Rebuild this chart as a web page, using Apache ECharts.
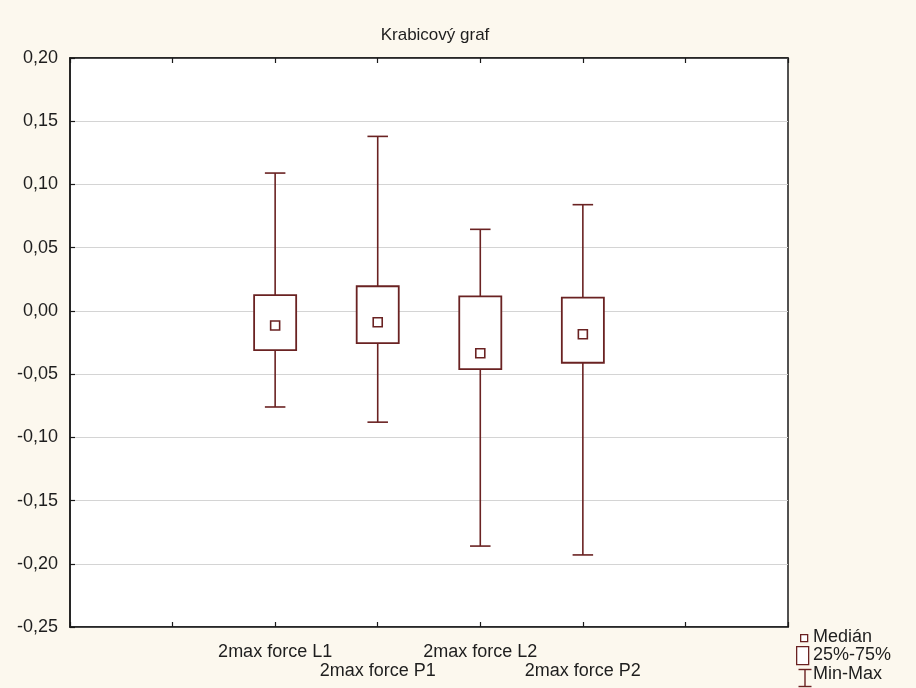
<!DOCTYPE html>
<html>
<head>
<meta charset="utf-8">
<script src="https://cdn.jsdelivr.net/npm/echarts@6/dist/echarts.min.js"></script>
<style>
  html, body { margin: 0; padding: 0; background: #fcf8ee; }
  #chart { width: 916px; height: 688px; }
</style>
</head>
<body>
<div id="chart"></div>
<script>
// Box plot: median, 25%-75% box and min-max whiskers per variable
const categories = ['2max force L1', '2max force P1', '2max force L2', '2max force P2'];
const positions = [2, 3, 4, 5];
const minValues = [-0.076, -0.088, -0.186, -0.193];
const q1Values = [-0.031, -0.0255, -0.046, -0.041];
const medianValues = [-0.0115, -0.009, -0.0335, -0.0185];
const q3Values = [0.0125, 0.0195, 0.0115, 0.0105];
const maxValues = [0.109, 0.138, 0.0645, 0.084];
const yMin = -0.25, yMax = 0.20, yStep = 0.05;
const legendLabels = ['Medián', '25%-75%', 'Min-Max'];

const markColor = '#6a2222';
const textColor = '#1e1e1e';
const font = 'Liberation Sans, Arial, sans-serif';
const fontSize = 18;

const whiskerData = positions.map((p, i) => [p, minValues[i], q1Values[i], q3Values[i], maxValues[i]]);
const boxData = positions.map((p, i) => [p, q1Values[i], q3Values[i]]);
const medianData = positions.map((p, i) => [p, medianValues[i]]);

const labelByPos = {};
positions.forEach((p, i) => { labelByPos[p] = (i % 2 === 1 ? '\n' : '') + categories[i]; });

const chart = echarts.init(document.getElementById('chart'), null, { renderer: 'canvas' });

const axisLineStyle = { color: '#1a1a1a', width: 1.5 };
const tickStyle = { show: true, inside: true, length: 5, lineStyle: { color: '#1a1a1a', width: 1.2 } };

const option = {
  backgroundColor: '#fcf8ee',
  animation: false,
  title: {
    text: 'Krabicový graf',
    left: 430,
    top: 22,
    textAlign: 'center',
    textStyle: { fontFamily: font, fontSize: 17, fontWeight: 'normal', color: textColor }
  },
  grid: {
    left: 70, right: 128, top: 58, bottom: 61,
    show: true, backgroundColor: '#ffffff', borderColor: '#1a1a1a', borderWidth: 1.5
  },
  xAxis: [{
    type: 'value', min: 0, max: 7, interval: 1, position: 'bottom',
    axisLine: { show: true, onZero: false, lineStyle: axisLineStyle },
    axisTick: tickStyle,
    splitLine: { show: false },
    axisLabel: {
      margin: 16, color: textColor, fontFamily: font, fontSize: fontSize, lineHeight: 19,
      verticalAlign: 'top',
      formatter: v => labelByPos[v] || ''
    }
  }, {
    type: 'value', min: 0, max: 7, interval: 1, position: 'top',
    axisLine: { show: true, onZero: false, lineStyle: axisLineStyle },
    axisTick: tickStyle,
    splitLine: { show: false },
    axisLabel: { show: false }
  }],
  yAxis: {
    type: 'value', min: yMin, max: yMax, interval: yStep,
    axisLine: { show: true, onZero: false, lineStyle: axisLineStyle },
    axisTick: tickStyle,
    splitLine: { show: true, lineStyle: { color: '#d4d4d4', width: 1.2 } },
    axisLabel: {
      margin: 12, color: textColor, fontFamily: font, fontSize: fontSize,
      formatter: v => v.toFixed(2).replace('.', ',')
    }
  },
  series: [{
    name: 'Min-Max',
    type: 'custom',
    data: whiskerData,
    z: 2,
    renderItem: (params, api) => {
      const x = api.value(0);
      const pMin = api.coord([x, api.value(1)]);
      const pQ1 = api.coord([x, api.value(2)]);
      const pQ3 = api.coord([x, api.value(3)]);
      const pMax = api.coord([x, api.value(4)]);
      const half = api.size([0.1, 0])[0];
      const style = { stroke: markColor, lineWidth: 1.6, fill: null };
      return {
        type: 'group',
        children: [
          { type: 'line', shape: { x1: pMin[0], y1: pMin[1], x2: pQ1[0], y2: pQ1[1] }, style },
          { type: 'line', shape: { x1: pQ3[0], y1: pQ3[1], x2: pMax[0], y2: pMax[1] }, style },
          { type: 'line', shape: { x1: pMin[0] - half, y1: pMin[1], x2: pMin[0] + half, y2: pMin[1] }, style },
          { type: 'line', shape: { x1: pMax[0] - half, y1: pMax[1], x2: pMax[0] + half, y2: pMax[1] }, style }
        ]
      };
    }
  }, {
    name: '25%-75%',
    type: 'custom',
    data: boxData,
    z: 3,
    renderItem: (params, api) => {
      const x = api.value(0);
      const pLow = api.coord([x, api.value(1)]);
      const pHigh = api.coord([x, api.value(2)]);
      const w = api.size([0.41, 0])[0];
      return {
        type: 'rect',
        shape: { x: pLow[0] - w / 2, y: pHigh[1], width: w, height: pLow[1] - pHigh[1] },
        style: { stroke: markColor, lineWidth: 1.8, fill: '#ffffff' }
      };
    }
  }, {
    name: 'Medián',
    type: 'scatter',
    data: medianData,
    z: 4,
    symbol: 'rect',
    symbolSize: 9,
    itemStyle: { color: '#ffffff', borderColor: markColor, borderWidth: 1.6, opacity: 1 }
  }],
  graphic: [
    // legend: median marker
    { type: 'rect', left: 800, top: 634, shape: { width: 7, height: 7 },
      style: { fill: '#fff', stroke: markColor, lineWidth: 1.3 } },
    { type: 'text', left: 813, top: 628, style: { text: legendLabels[0], font: fontSize + 'px ' + font, fill: textColor } },
    // legend: quartile box
    { type: 'rect', left: 796, top: 646, shape: { width: 12, height: 18 },
      style: { fill: '#fff', stroke: markColor, lineWidth: 1.3 } },
    { type: 'text', left: 813, top: 646, style: { text: legendLabels[1], font: fontSize + 'px ' + font, fill: textColor } },
    // legend: min-max whisker
    { type: 'group', left: 796, top: 667, children: [
      { type: 'line', shape: { x1: 0, y1: 0, x2: 13, y2: 0 }, style: { stroke: markColor, lineWidth: 1.4 } },
      { type: 'line', shape: { x1: 6.5, y1: 0, x2: 6.5, y2: 17 }, style: { stroke: markColor, lineWidth: 1.4 } },
      { type: 'line', shape: { x1: 0, y1: 17, x2: 13, y2: 17 }, style: { stroke: markColor, lineWidth: 1.4 } }
    ] },
    { type: 'text', left: 813, top: 665, style: { text: legendLabels[2], font: fontSize + 'px ' + font, fill: textColor } }
  ]
};

chart.setOption(option);
</script>
</body>
</html>
